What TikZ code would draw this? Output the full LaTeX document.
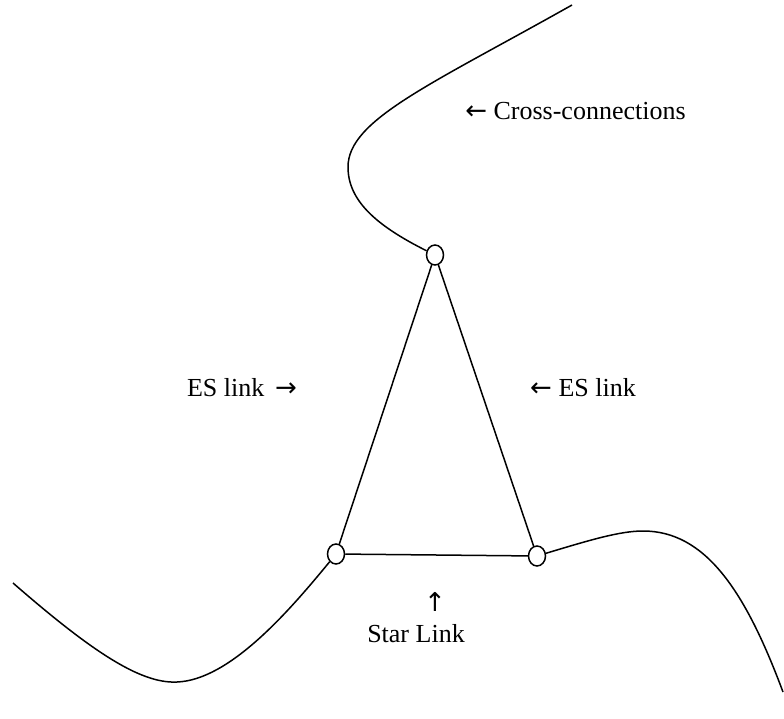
\documentclass[tikz,border=0pt]{standalone}
\usepackage{fontspec}
\setmainfont{Liberation Serif}
\newfontfamily\arrowfont{DejaVu Sans}
\newcommand{\arr}[1]{{\arrowfont #1}}
\usetikzlibrary{shapes.geometric}
\begin{document}
\begin{tikzpicture}[x=1pt,y=-1pt,
  line width=1.5pt,
  station/.style={draw,ellipse,inner sep=0pt,minimum width=17pt,minimum height=20pt,fill=white},
  lbl/.style={font=\fontsize{26}{30}\selectfont,inner sep=0pt}]
\useasboundingbox (0,0) rectangle (784,719);

% stations
\node[station] (top) at (435,255) {};
\node[station] (bl) at (336,554) {};
\node[station] (br) at (537,556) {};

% free ends of the cross-connection curves
\coordinate (topend) at (572,5);
\coordinate (leftend) at (13,583);
\coordinate (rightend) at (783,692);

% triangle of links
\draw (top) -- (bl);
\draw (top) -- (br);
\draw (bl) -- (br);

% cross-connection curves
\draw (topend) .. controls (430,85) and (348,120) .. (348,167)
      .. controls (348,200) and (375,225) .. (top);
\draw (leftend) .. controls (90,650) and (140,684) .. (177,682)
      .. controls (230,680) and (290,610) .. (bl);
\draw (br) .. controls (590,540) and (620,531) .. (643,531)
      .. controls (705,531) and (745,590) .. (rightend);

% labels
\node[lbl,anchor=base] (cc) at (575.5,120) {\arr{←} Cross-connections};
\node[lbl,anchor=base] (esl) at (242,396) {ES link\, \arr{→}};
\node[lbl,anchor=base] (esr) at (583,396) {\arr{←} ES link};
\node[lbl,anchor=center] (up) at (435,602) {\arr{↑}};
\node[lbl,anchor=base] (star) at (416,642) {Star Link};
\end{tikzpicture}
\end{document}
